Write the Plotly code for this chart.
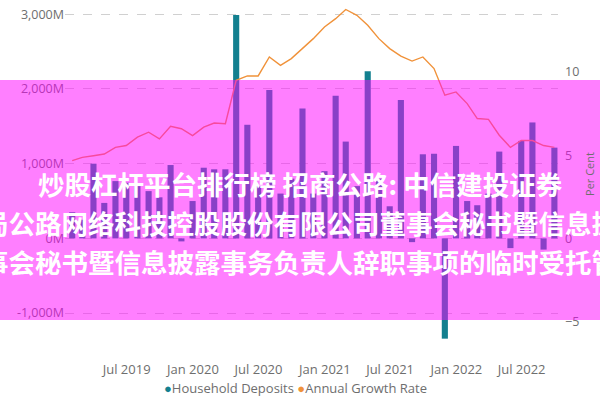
import plotly.graph_objects as go

# ---- data ----
months = [
    "2019-01-31", "2019-02-28", "2019-03-31", "2019-04-30", "2019-05-31", "2019-06-30",
    "2019-07-31", "2019-08-31", "2019-09-30", "2019-10-31", "2019-11-30", "2019-12-31",
    "2020-01-31", "2020-02-29", "2020-03-31", "2020-04-30", "2020-05-31", "2020-06-30",
    "2020-07-31", "2020-08-31", "2020-09-30", "2020-10-31", "2020-11-30", "2020-12-31",
    "2021-01-31", "2021-02-28", "2021-03-31", "2021-04-30", "2021-05-31", "2021-06-30",
    "2021-07-31", "2021-08-31", "2021-09-30", "2021-10-31", "2021-11-30", "2021-12-31",
    "2022-01-31", "2022-02-28", "2022-03-31", "2022-04-30", "2022-05-31", "2022-06-30",
    "2022-07-31", "2022-08-31", "2022-09-30",
]
household_deposits = [  # $M, monthly change
    350, 250, 1000, 475, 767, 745, 700, 633, 550, 982, -40, 500,
    946, 925, 925, 2990, 1521, 700, 1988, 600, 800, 1740, 600, 900,
    1911, 1296, 700, 2238, 800, 430, 1853, -50, 1126, 1133, -1342, 1238,
    500, 444, 600, 1162, -130, 1305, 1552, -150, 1215,
]
annual_growth_rate = [  # per cent
    4.67, 4.87, 4.97, 5.07, 5.47, 5.58, 6.08, 6.38, 5.98, 6.73, 6.59, 6.18,
    6.68, 6.93, 6.89, 9.5, 9.76, 9.76, 10.9, 10.4, 10.8, 11.4, 12.0, 12.7,
    13.2, 13.75, 13.4, 12.8, 12.0, 11.4, 10.95, 10.65, 10.9, 10.2, 8.6, 8.8,
    8.1, 7.2, 7.15, 6.2, 5.47, 5.88, 5.88, 5.58, 5.47,
]
x_tick_vals = ["2019-07-01", "2020-01-01", "2020-07-01", "2021-01-01",
               "2021-07-01", "2022-01-01", "2022-07-01"]
x_tick_text = ["Jul 2019", "Jan 2020", "Jul 2020", "Jan 2021",
               "Jul 2021", "Jan 2022", "Jul 2022"]
y_tick_vals = [-1000, 0, 1000, 2000, 3000]
y_tick_text = ["-1,000M", "0M", "1,000M", "2,000M", "3,000M"]
y2_tick_vals = [-5, 0, 5, 10]
overlay_lines = [
    "炒股杠杆平台排行榜 招商公路: 中信建投证券",
    "局公路网络科技控股股份有限公司董事会秘书暨信息披",
    "事会秘书暨信息披露事务负责人辞职事项的临时受托管",
]

# ---- style ----
TEAL = "#13808F"
ORANGE = "#F0923A"
GRAY = "#6E6E6E"
FONT = "Open Sans, Noto Sans, sans-serif"
W, H = 600, 400
L, R, T, B = 65, 42, 8, 60
PW, PH = W - L - R, H - T - B


def px_x(px):
    return (px - L) / PW


def px_y(py):
    return (H - B - py) / PH


fig = go.Figure()
fig.add_trace(go.Bar(
    x=months, y=household_deposits, name="Household Deposits",
    marker=dict(color=TEAL, line=dict(width=0)),
    width=17 * 86400000, yaxis="y",
))
fig.add_trace(go.Scatter(
    x=months, y=annual_growth_rate, name="Annual Growth Rate",
    mode="lines", line=dict(color=ORANGE, width=1.4), yaxis="y2",
))

fig.update_layout(
    width=W, height=H,
    margin=dict(l=L, r=R, t=T, b=B, autoexpand=False),
    paper_bgcolor="white", plot_bgcolor="white",
    showlegend=False,
    font=dict(family=FONT, size=13, color=GRAY),
    xaxis=dict(
        type="date", range=["2019-01-11", "2022-10-10"],
        tickvals=x_tick_vals, ticktext=x_tick_text,
        showgrid=False, zeroline=False, showline=False, ticks="",
        ticklabelstandoff=20, automargin=False,
        tickfont=dict(size=13, color=GRAY),
    ),
    yaxis=dict(
        range=[-1360, 3084], tickvals=y_tick_vals, ticktext=y_tick_text,
        showgrid=True, gridcolor="#D0D0D0", griddash="dash", gridwidth=1,
        zeroline=False, showline=False, ticks="", automargin=False,
        tickfont=dict(size=12.5, color=GRAY),
    ),
    yaxis2=dict(
        range=[-6.1, 13.84], tickvals=y2_tick_vals,
        overlaying="y", side="right", showgrid=False, zeroline=False,
        showline=False, ticks="", ticklabelstandoff=6, automargin=False,
        tickfont=dict(size=12.5, color=GRAY),
        title=dict(text="Per Cent", font=dict(size=11, color=GRAY), standoff=8),
    ),
)

# magenta overlay banner
fig.add_shape(
    type="rect", xref="paper", yref="paper",
    x0=px_x(-5), x1=px_x(605), y0=px_y(320), y1=px_y(80),
    fillcolor="rgba(255,0,255,0.5)", line=dict(width=0), layer="above",
)
for text, cy in zip(overlay_lines, [183, 222, 261]):
    fig.add_annotation(
        xref="paper", yref="paper", x=px_x(300), y=px_y(cy),
        text="<b>" + text + "</b>", showarrow=False,
        xanchor="center", yanchor="middle",
        font=dict(family="Noto Sans CJK SC", size=26.5, color="white"),
    )

# legend
fig.add_annotation(
    xref="paper", yref="paper", x=px_x(295), y=px_y(388),
    xanchor="center", yanchor="middle", showarrow=False,
    text=(f"<span style='color:{TEAL}'>●</span>Household Deposits "
          f"<span style='color:{ORANGE}'>●</span>Annual Growth Rate"),
    font=dict(family=FONT, size=13, color=GRAY),
)

fig.write_html(
    "out.html",
    config={"displayModeBar": False},
    post_script="document.body.style.margin='0';document.body.style.overflow='hidden';",
)
